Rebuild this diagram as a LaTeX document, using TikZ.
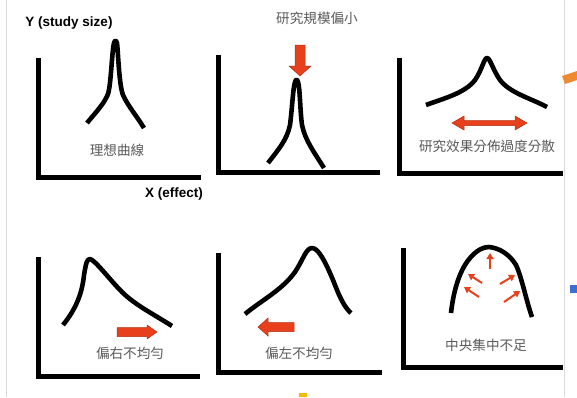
\documentclass[tikz,border=0pt]{standalone}
\usepackage{fontspec}
\setmainfont{Liberation Sans}
\newfontfamily\cjk{Noto Sans CJK TC}
\usetikzlibrary{arrows.meta}
\definecolor{arrred}{HTML}{E8401C}
\definecolor{arredge}{HTML}{B0300F}
\definecolor{txtgray}{HTML}{5A5A5A}
\definecolor{edgegray}{HTML}{DADADA}
\definecolor{decoorange}{HTML}{F08A30}
\definecolor{decoblue}{HTML}{3C6FD0}
\definecolor{decoyellow}{HTML}{F8B800}
\tikzset{
  axis/.style={line width=5pt, line join=miter},
  curve/.style={line width=4.6pt, line join=round},
  blockarrow/.style={fill=arrred, draw=arredge, line width=0.5pt},
  thinarrow/.style={draw=arrred, line width=2pt, -{Triangle[length=6pt,width=7pt]}},
  axlabel/.style={font=\bfseries\fontsize{13.5}{14}\selectfont, inner sep=0pt},
  cjklabel/.style={font=\cjk\fontsize{13.6}{14}\selectfont, text=txtgray, inner sep=0pt}
}
\begin{document}
\begin{tikzpicture}[x=1pt,y=-1pt]
\useasboundingbox (0,0) rectangle (577,397);
\fill[white] (0,0) rectangle (577,397);
% page edges
\draw[edgegray, line width=0.8pt] (6,0) -- (6,397);
\draw[edgegray, line width=0.8pt] (564,0) -- (564,397);
\fill[decoorange] (562,76) -- (577,71) -- (577,80) -- (565,84) -- cycle;
\fill[decoblue] (570,285) rectangle (577,293);
\fill[decoyellow] (299,393) rectangle (307,397);

% axis labels
\node[axlabel] (ylab) at (69,23) {Y (study size)};
\node[axlabel] (xlab) at (174,194) {X (effect)};

% Panel 1
\draw[axis] (38,58) -- (38,177) -- (201,177);
\draw[curve] (87,123) .. controls (96,112) and (104,104) .. (108,94)
  .. controls (111,85) and (112,50) .. (114,43)
  .. controls (115,40) and (116,40) .. (117,43)
  .. controls (118,50) and (119,85) .. (123,95)
  .. controls (128,106) and (136,115) .. (144,128);
\node[cjklabel] (t1) at (117,150) {理想曲線};

% Panel 2
\draw[axis] (218,55) -- (218,172) -- (380,172);
\draw[curve] (268,163) .. controls (278,150) and (287,140) .. (290,125)
  .. controls (292,110) and (293,88) .. (295,82)
  .. controls (296,79) and (297,79) .. (298,82)
  .. controls (300,88) and (300,110) .. (302,125)
  .. controls (305,140) and (314,152) .. (324,168);
\draw[blockarrow] (295,45) -- (305,45) -- (305,66) -- (311,66) -- (300,76) -- (289,66) -- (295,66) -- cycle;
\node[cjklabel] (t2) at (317,18) {研究規模偏小};

% Panel 3
\draw[axis] (399,58) -- (399,173) -- (563,173);
\draw[curve] (426,105) .. controls (445,98) and (465,93) .. (475,80)
  .. controls (482,70) and (484,58) .. (487,58)
  .. controls (490,58) and (493,70) .. (500,80)
  .. controls (510,93) and (530,98) .. (547,107);
\draw[blockarrow] (452,123) -- (464,116) -- (464,120.5) -- (515,120.5) -- (515,116) -- (527,123)
  -- (515,130) -- (515,125.5) -- (464,125.5) -- (464,130) -- cycle;
\node[cjklabel] (t3) at (487,146) {研究效果分佈過度分散};

% Panel 4
\draw[axis] (38,257) -- (38,376) -- (200,376);
\draw[curve] (63,325) .. controls (75,310) and (82,295) .. (84,275)
  .. controls (86,263) and (87,259) .. (90,259)
  .. controls (95,260) and (110,280) .. (122,292)
  .. controls (135,305) and (155,315) .. (172,326);
\draw[blockarrow] (117,327.5) -- (147,327.5) -- (147,325) -- (157,332) -- (147,339) -- (147,336.5) -- (117,336.5) -- cycle;
\node[cjklabel] (t4) at (130,353) {偏右不均勻};

% Panel 5
\draw[axis] (218,253) -- (218,372) -- (382,372);
\draw[curve] (245,314) .. controls (262,300) and (282,290) .. (295,272)
  .. controls (303,260) and (306,248) .. (312,248)
  .. controls (318,248) and (325,260) .. (335,285)
  .. controls (340,298) and (345,308) .. (351,313);
\draw[blockarrow] (294,322.5) -- (268,322.5) -- (268,318) -- (258,327) -- (268,336) -- (268,331.5) -- (294,331.5) -- cycle;
\node[cjklabel] (t5) at (299,353) {偏左不均勻};

% Panel 6
\draw[axis] (403,248) -- (403,367) -- (563,367);
\draw[curve] (451,313) .. controls (453,295) and (458,272) .. (470,258)
  .. controls (477,250) and (483,247) .. (489,247)
  .. controls (500,248) and (510,255) .. (516,265)
  .. controls (522,278) and (526,300) .. (532,317);
\coordinate (a1s) at (490,269); \coordinate (a1e) at (490,253);
\coordinate (a2s) at (482,283); \coordinate (a2e) at (468,274);
\coordinate (a3s) at (479,297); \coordinate (a3e) at (464,287);
\coordinate (a4s) at (500,284); \coordinate (a4e) at (515,275);
\coordinate (a5s) at (504,302); \coordinate (a5e) at (520,291);
\draw[thinarrow] (a1s) -- (a1e);
\draw[thinarrow] (a2s) -- (a2e);
\draw[thinarrow] (a3s) -- (a3e);
\draw[thinarrow] (a4s) -- (a4e);
\draw[thinarrow] (a5s) -- (a5e);
\node[cjklabel] (t6) at (486,345) {中央集中不足};
\end{tikzpicture}
\end{document}
